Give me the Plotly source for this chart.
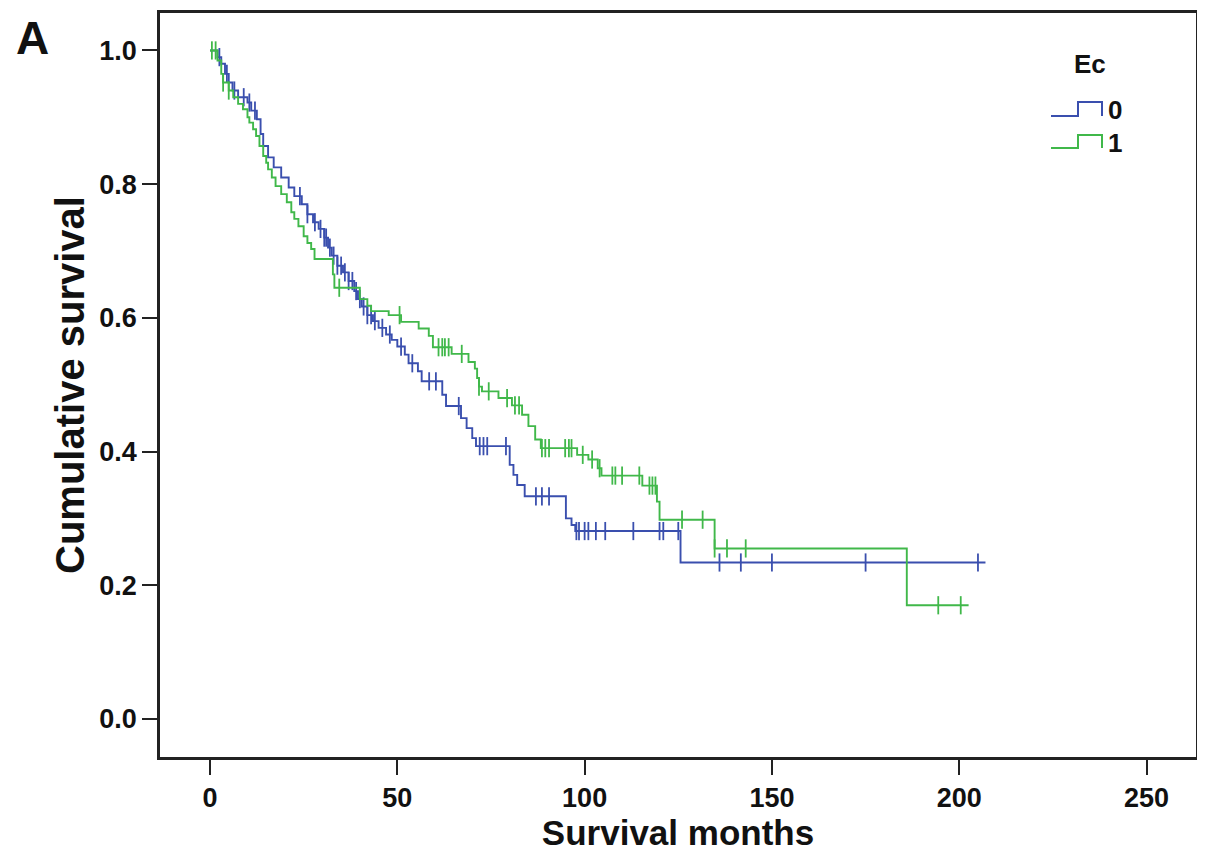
import numpy as np
import plotly.graph_objects as go

# ---------------- data ----------------
# Group Ec = 0 (blue): event times (months) and survival after each step
ec0_times = [2, 3, 4, 5, 6, 7.5, 10, 11, 12.5, 13.5, 14.2, 15.5, 17, 19, 21, 22.5,
             24.5, 26, 27.5, 29, 30.5, 31.5, 32.5, 34, 35.5, 37, 38.5, 39.5, 40.5,
             42, 43.5, 45, 47, 48.5, 50, 52, 53, 55.5, 56.5, 62, 63, 67, 68.5, 70,
             71, 80, 81, 82, 84, 95, 96.5, 97.5, 125.6]
ec0_surv = [0.99, 0.98, 0.965, 0.952, 0.94, 0.93, 0.922, 0.91, 0.897, 0.875, 0.857,
            0.84, 0.825, 0.81, 0.795, 0.782, 0.77, 0.755, 0.743, 0.733, 0.72, 0.705,
            0.693, 0.678, 0.668, 0.655, 0.64, 0.628, 0.617, 0.604, 0.595, 0.585,
            0.575, 0.567, 0.557, 0.545, 0.532, 0.52, 0.505, 0.485, 0.468, 0.45,
            0.435, 0.42, 0.408, 0.38, 0.365, 0.35, 0.333, 0.30, 0.29, 0.281, 0.234]
ec0_censored = [2.5, 4.5, 6.5, 9, 10.5, 12, 24, 26, 28, 29.5, 30.5, 31, 32, 33, 34,
                35, 36, 37, 38, 39, 40, 41, 42, 43, 44, 46, 48, 51, 54, 58.5, 60.3,
                66.4, 72, 73, 74, 79, 87, 88.6, 90.5, 97.8, 98.5, 100, 101, 103,
                105.5, 113, 120, 121, 125, 136, 141.7, 150, 175, 205]
ec0_end = 207

# Group Ec = 1 (green)
ec1_times = [2, 3, 3.5, 5, 6.2, 7.5, 8.8, 10, 10.5, 11.5, 12.3, 13.2, 14.2, 15, 15.5,
             16.5, 17.5, 19, 20.5, 21.7, 22.5, 23.6, 25, 26, 27, 27.9, 32.8, 33.2,
             40, 42, 43, 47.7, 51, 55.7, 58.4, 59.5, 64.5, 69, 70.7, 71.3, 71.8,
             72.6, 77, 80.6, 83.3, 85, 86.8, 88.3, 98, 101, 103.5, 104.5, 115.4,
             119.3, 120, 134.7, 186]
ec1_surv = [0.985, 0.965, 0.952, 0.94, 0.93, 0.92, 0.912, 0.90, 0.892, 0.882, 0.872,
            0.857, 0.842, 0.832, 0.822, 0.81, 0.797, 0.785, 0.773, 0.758, 0.748,
            0.737, 0.722, 0.712, 0.703, 0.688, 0.665, 0.645, 0.628, 0.618, 0.61,
            0.604, 0.594, 0.584, 0.573, 0.556, 0.546, 0.534, 0.524, 0.51, 0.497,
            0.49, 0.48, 0.469, 0.455, 0.438, 0.418, 0.405, 0.395, 0.388, 0.375,
            0.364, 0.349, 0.325, 0.298, 0.255, 0.17]
ec1_censored = [0.5, 1.5, 3.5, 5, 34.5, 50.6, 61, 62, 62.7, 63.7, 67.2, 71.8, 74.4,
                79.3, 81.4, 82.5, 88.6, 89.5, 90.5, 94.8, 95.8, 96.5, 99.5, 102,
                104, 107.4, 108.2, 110, 114.6, 117.3, 118.1, 118.9, 126, 131.5,
                134.7, 138, 143, 194.4, 200.4]
ec1_end = 202.5

groups = ["0", "1"]
legend_title = "Ec"
x_ticks = [0, 50, 100, 150, 200, 250]
y_ticks = [0.0, 0.2, 0.4, 0.6, 0.8, 1.0]

BLUE = "#3a4fae"
GREEN = "#40b84a"


def step_xy(times, surv, end):
    xs = [0.0] + list(times) + [end]
    ys = [1.0] + list(surv) + [surv[-1]]
    return xs, ys


def surv_at(times, surv, t):
    idx = np.searchsorted(np.asarray(times), t, side="right") - 1
    return [1.0 if i < 0 else surv[i] for i in idx]


fig = go.Figure()
for times, surv, cens, end, col in [
    (ec0_times, ec0_surv, ec0_censored, ec0_end, BLUE),
    (ec1_times, ec1_surv, ec1_censored, ec1_end, GREEN),
]:
    xs, ys = step_xy(times, surv, end)
    fig.add_trace(go.Scatter(x=xs, y=ys, mode="lines", line_shape="hv",
                             line=dict(color=col, width=1.9), showlegend=False,
                             hoverinfo="skip"))
    fig.add_trace(go.Scatter(x=cens, y=surv_at(times, surv, cens), mode="markers",
                             marker=dict(symbol="line-ns-open", size=13, color=col,
                                         line=dict(color=col, width=1.8)),
                             showlegend=False, hoverinfo="skip"))

FONT = "Arial, Liberation Sans, sans-serif"

# page has an 8px body margin, so the figure is drawn 8px in from the top-left
W, H = 1197, 855
PL, PT, PR, PB = 152, 5, 1188, 749   # plot area in figure pixels

fig.update_layout(
    width=W, height=H,
    margin=dict(l=PL, r=W - PR, t=PT, b=H - PB, autoexpand=False),
    paper_bgcolor="white", plot_bgcolor="white",
    font=dict(family=FONT, color="#111"),
    xaxis=dict(range=[-13.35, 263.2], tickvals=x_ticks, ticks="outside", ticklen=15,
               tickwidth=2, tickcolor="#222", showline=True, linewidth=2.5,
               linecolor="#222", mirror=True, showgrid=False, zeroline=False,
               tickfont=dict(size=27, family=FONT, weight="bold"),
               title=dict(text="<b>Survival months</b>", font=dict(size=35, family=FONT),
                          standoff=0)),
    yaxis=dict(range=[-0.057, 1.056], tickvals=y_ticks, tickformat=".1f",
               ticks="outside", ticklen=15, tickwidth=2, tickcolor="#222",
               showline=True, linewidth=2.5, linecolor="#222", mirror=True,
               showgrid=False, zeroline=False,
               tickfont=dict(size=27, family=FONT, weight="bold"),
               title=dict(text="<b>Cumulative survival</b>", font=dict(size=40, family=FONT),
                          standoff=3)),
)


# reference-pixel -> paper coordinate helpers (reference pixels include the 8px offset)
def px2paper_x(px):
    return (px - 8 - PL) / (PR - PL)


def px2paper_y(py):
    return (PB - (py - 8)) / (PB - PT)


# panel letter
fig.add_annotation(text="<b>A</b>", xref="paper", yref="paper",
                   x=px2paper_x(32), y=px2paper_y(38), xanchor="center", yanchor="middle",
                   showarrow=False, font=dict(size=46, family=FONT, color="#111"))

# legend (drawn as step icons)
fig.add_annotation(text="<b>" + legend_title + "</b>", xref="paper", yref="paper",
                   x=px2paper_x(1090), y=px2paper_y(64), xanchor="center", yanchor="middle",
                   showarrow=False, font=dict(size=26, family=FONT, color="#111"))
for label, col, yb, yt in [(groups[0], BLUE, 116, 102), (groups[1], GREEN, 148, 135)]:
    pts = [(1051, yb), (1078, yb), (1078, yt), (1102, yt), (1102, yb)]
    path = "M " + " L ".join(f"{px2paper_x(a):.5f},{px2paper_y(b):.5f}" for a, b in pts)
    fig.add_shape(type="path", path=path, xref="paper", yref="paper",
                  line=dict(color=col, width=2))
    fig.add_annotation(text="<b>" + label + "</b>", xref="paper", yref="paper",
                       x=px2paper_x(1106), y=px2paper_y((yb + yt) / 2 + 1),
                       xanchor="left", yanchor="middle", showarrow=False,
                       font=dict(size=26, family=FONT, color="#111"))

fig.write_html("out.html")
